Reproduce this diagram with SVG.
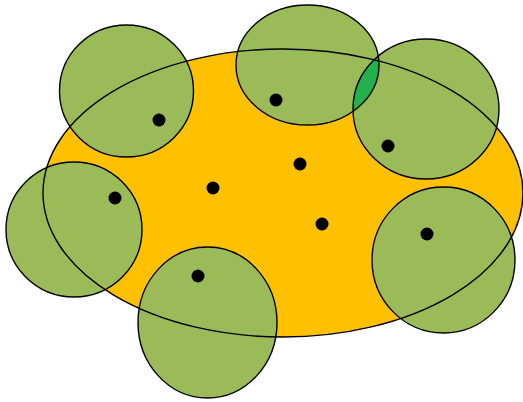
<svg xmlns="http://www.w3.org/2000/svg" width="523" height="402" viewBox="0 0 523 402">
<style>
.zone{fill:#FFC000;stroke:none}
.outline{fill:none;stroke:#000;stroke-width:1.4}
.c{fill:#9BBB59}
.cs{fill:none;stroke:#000;stroke-width:1.4}
.dot{fill:#000}
.lens{fill:#22B14C}
</style>
<defs>
<clipPath id="clip3"><ellipse cx="426" cy="109" rx="73" ry="70"/></clipPath>
</defs>
<rect width="523" height="402" fill="#fff"/>
<g id="region">
<ellipse class="zone" cx="283" cy="193" rx="240" ry="144"/>
</g>
<g id="circle-fills">
<ellipse class="c" cx="126.5" cy="91" rx="67" ry="66"/>
<ellipse class="c" cx="307.5" cy="65" rx="71.5" ry="60"/>
<ellipse class="c" cx="426" cy="109" rx="73" ry="70"/>
<ellipse class="c" cx="74" cy="229.5" rx="68" ry="67.5"/>
<ellipse class="c" cx="207.5" cy="322.5" rx="69.5" ry="75.5"/>
<ellipse class="c" cx="443.5" cy="260" rx="71.5" ry="73"/>
</g>
<g id="overlap">
<ellipse class="lens" cx="307.5" cy="65" rx="71.5" ry="60" clip-path="url(#clip3)"/>
</g>
<g id="node1"><ellipse class="cs" cx="126.5" cy="91" rx="67" ry="66"/><circle class="dot" cx="159" cy="120" r="6.5"/></g>
<g id="node2"><ellipse class="cs" cx="307.5" cy="65" rx="71.5" ry="60"/><circle class="dot" cx="276" cy="100" r="6.5"/></g>
<g id="node3"><ellipse class="cs" cx="426" cy="109" rx="73" ry="70"/><circle class="dot" cx="388" cy="146" r="6.5"/></g>
<g id="node4"><ellipse class="cs" cx="74" cy="229.5" rx="68" ry="67.5"/><circle class="dot" cx="115" cy="198" r="6.5"/></g>
<g id="node5"><ellipse class="cs" cx="207.5" cy="322.5" rx="69.5" ry="75.5"/><circle class="dot" cx="198" cy="276" r="6.5"/></g>
<g id="node6"><ellipse class="cs" cx="443.5" cy="260" rx="71.5" ry="73"/><circle class="dot" cx="427" cy="234" r="6.5"/></g>
<g id="inner-dots">
<circle class="dot" cx="213" cy="188" r="6.5"/>
<circle class="dot" cx="300" cy="164" r="6.5"/>
<circle class="dot" cx="322" cy="224" r="6.5"/>
</g>
<g id="connectors">
<ellipse class="outline" cx="283" cy="193" rx="240" ry="144"/>
</g>
</svg>
